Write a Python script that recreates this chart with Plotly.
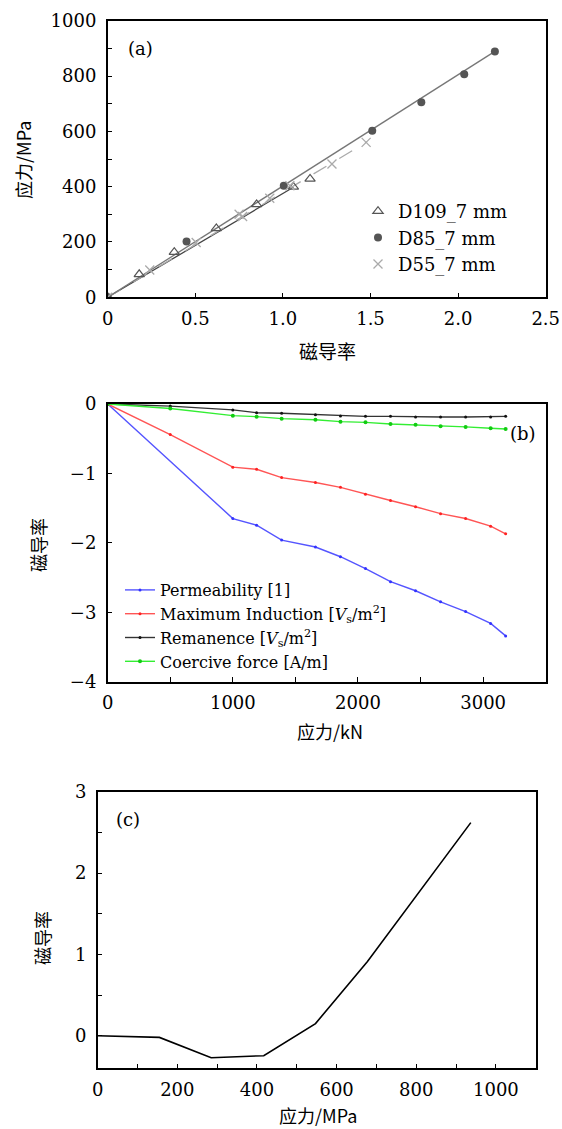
import plotly.graph_objects as go

# ---------------- Panel (a) data ----------------
d109_x = [0, 0.18, 0.38, 0.62, 0.85, 1.06, 1.155]
d109_y = [0, 83, 163, 249, 336, 399, 428]
d85_x = [0, 0.45, 1.005, 1.51, 1.79, 2.035, 2.21]
d85_y = [0, 202, 403, 602, 705, 806, 889]
d55_x = [0, 0.24, 0.505, 0.75, 0.77, 0.925, 1.04, 1.28, 1.475]
d55_y = [0, 99, 198, 300, 292, 358, 403, 482, 560]
# fitted lines
d109_fit_x = [0, 1.06]
d109_fit_y = [0, 398]
d85_fit_x = [0, 2.21]
d85_fit_y = [0, 889]
d55_fit_x = [0, 1.48]
d55_fit_y = [0, 562]
a_xtickvals = [0, 0.5, 1.0, 1.5, 2.0, 2.5]
a_xticktext = ["0", "0.5", "1.0", "1.5", "2.0", "2.5"]

# ---------------- Panel (b) data ----------------
perm_x = [0, 1000, 1190, 1390, 1660, 1860, 2060, 2260, 2460, 2660, 2860, 3060, 3180]
perm_y = [0, -1.65, -1.745, -1.96, -2.06, -2.2, -2.37, -2.56, -2.69, -2.85, -2.99, -3.16, -3.34]
load_x = [0, 500, 1000, 1190, 1390, 1660, 1860, 2060, 2260, 2460, 2660, 2860, 3060, 3180]
induct_y = [0, -0.44, -0.91, -0.94, -1.06, -1.13, -1.2, -1.3, -1.39, -1.48, -1.58, -1.65, -1.76, -1.87]
reman_y = [0, -0.03, -0.085, -0.125, -0.134, -0.154, -0.173, -0.178, -0.178, -0.187, -0.187, -0.187, -0.187, -0.178]
coerc_y = [0, -0.065, -0.168, -0.182, -0.211, -0.226, -0.254, -0.264, -0.288, -0.30, -0.32, -0.33, -0.35, -0.36]

# ---------------- Panel (c) data ----------------
stress_c = [0, 155, 285, 417, 547, 677, 937]
perm_c = [0, -0.02, -0.27, -0.245, 0.15, 0.91, 2.62]

W, H = 562, 1129
FONT = "DejaVu Serif, Noto Sans CJK SC, serif"
CJK = "Noto Sans CJK SC, DejaVu Serif, serif"

def px(x):
    return x / W

def py(y):
    return 1 - y / H

fig = go.Figure()

# panel (a)
fig.add_trace(go.Scatter(x=d109_fit_x, y=d109_fit_y, mode="lines", line=dict(color="#444444", width=1.3),
                         showlegend=False, xaxis="x", yaxis="y"))
fig.add_trace(go.Scatter(x=d55_fit_x, y=d55_fit_y, mode="lines", line=dict(color="#aaaaaa", width=1.3, dash="longdash"),
                         showlegend=False, xaxis="x", yaxis="y"))
fig.add_trace(go.Scatter(x=d85_fit_x, y=d85_fit_y, mode="lines", line=dict(color="#777777", width=1.3),
                         showlegend=False, xaxis="x", yaxis="y"))
fig.add_trace(go.Scatter(x=d109_x, y=d109_y, mode="markers", name="D109_7 mm",
                         marker=dict(symbol="triangle-up-open", size=9, color="#555555", line=dict(width=1.2)),
                         xaxis="x", yaxis="y", legend="legend"))
fig.add_trace(go.Scatter(x=d85_x, y=d85_y, mode="markers", name="D85_7 mm",
                         marker=dict(symbol="circle", size=8, color="#555555"),
                         xaxis="x", yaxis="y", legend="legend"))
fig.add_trace(go.Scatter(x=d55_x, y=d55_y, mode="markers", name="D55_7 mm",
                         marker=dict(symbol="x-thin-open", size=9, color="#aaaaaa", line=dict(width=1.3, color="#aaaaaa")),
                         xaxis="x", yaxis="y", legend="legend"))

# panel (b)
fig.add_trace(go.Scatter(x=perm_x, y=perm_y, mode="lines+markers", name="Permeability [1]",
                         line=dict(color="#5555ff", width=1.4), marker=dict(size=3, color="#3333ff"),
                         xaxis="x2", yaxis="y2", legend="legend2"))
fig.add_trace(go.Scatter(x=load_x, y=induct_y, mode="lines+markers",
                         name="Maximum Induction [<i>V</i><sub>s</sub>/m<sup>2</sup>]",
                         line=dict(color="#ff5555", width=1.4), marker=dict(size=3, color="#ff2222"),
                         xaxis="x2", yaxis="y2", legend="legend2"))
fig.add_trace(go.Scatter(x=load_x, y=reman_y, mode="lines+markers",
                         name="Remanence [<i>V</i><sub>s</sub>/m<sup>2</sup>]",
                         line=dict(color="#333333", width=1.4), marker=dict(size=3, color="#111111"),
                         xaxis="x2", yaxis="y2", legend="legend2"))
fig.add_trace(go.Scatter(x=load_x, y=coerc_y, mode="lines+markers",
                         name="Coercive force [A/m]",
                         line=dict(color="#33ee33", width=1.4), marker=dict(size=4, color="#11cc11"),
                         xaxis="x2", yaxis="y2", legend="legend2"))

# panel (c)
fig.add_trace(go.Scatter(x=stress_c, y=perm_c, mode="lines", line=dict(color="black", width=1.6),
                         showlegend=False, xaxis="x3", yaxis="y3"))

axis_common = dict(showline=True, linecolor="black", linewidth=1.5, mirror=True,
                   ticks="inside", tickcolor="black", ticklen=5, tickwidth=1,
                   showgrid=False, zeroline=False, automargin=False,
                   tickfont=dict(family=FONT, size=18, color="black"))

xa_dom = [px(107.7), px(545.7)]
xc_dom = [px(97.7), px(535.7)]

fig.update_layout(
    width=W, height=H,
    margin=dict(l=0, r=0, t=0, b=0, autoexpand=False),
    paper_bgcolor="white", plot_bgcolor="white",
    font=dict(family=FONT, color="black"),
    xaxis=dict(domain=xa_dom, anchor="y", range=[0, 2.5], tickvals=a_xtickvals, ticktext=a_xticktext,
               ticklabelstandoff=4, **axis_common),
    yaxis=dict(domain=[py(297.3), py(20.7)], anchor="x", range=[0, 1000], dtick=200,
               minor=dict(ticks="inside", dtick=100, ticklen=5, tickcolor="black"),
               ticklabelstandoff=6, **axis_common),
    xaxis2=dict(domain=xa_dom, anchor="y2", range=[0, 3500], dtick=1000,
                minor=dict(ticks="inside", dtick=500, ticklen=5, tickcolor="black"),
                ticklabelstandoff=4, **axis_common),
    yaxis2=dict(domain=[py(681.7), py(404)], anchor="x2", range=[-4, 0], dtick=1,
                ticklabelstandoff=6, **axis_common),
    xaxis3=dict(domain=xc_dom, anchor="y3", range=[0, 1100], dtick=200,
                minor=dict(ticks="inside", dtick=100, ticklen=5, tickcolor="black"),
                ticklabelstandoff=4, **axis_common),
    yaxis3=dict(domain=[py(1068.3), py(791.7)], anchor="x3", range=[-0.4, 3], dtick=1,
                minor=dict(ticks="inside", dtick=0.5, ticklen=5, tickcolor="black"),
                ticklabelstandoff=6, **axis_common),
    legend=dict(x=px(358), y=py(193), xanchor="left", yanchor="top", bgcolor="rgba(0,0,0,0)",
                font=dict(family=FONT, size=18, color="black")),
    legend2=dict(x=px(120), y=py(573), xanchor="left", yanchor="top", bgcolor="rgba(0,0,0,0)",
                 font=dict(family=FONT, size=16, color="black"), itemwidth=30),
)

annots = [
    dict(text="(a)", x=px(140), y=py(49), font=dict(family=FONT, size=18)),
    dict(text="(b)", x=px(523), y=py(433), font=dict(family=FONT, size=18)),
    dict(text="(c)", x=px(128), y=py(819), font=dict(family=FONT, size=18)),
    dict(text="应力/MPa", x=px(23), y=py(160), textangle=-90, font=dict(family=CJK, size=18)),
    dict(text="磁导率", x=px(327), y=py(350), font=dict(family=CJK, size=19)),
    dict(text="磁导率", x=px(38), y=py(545), textangle=-90, font=dict(family=CJK, size=18)),
    dict(text="应力/kN", x=px(330), y=py(731), font=dict(family=CJK, size=18)),
    dict(text="磁导率", x=px(42), y=py(938), textangle=-90, font=dict(family=CJK, size=18)),
    dict(text="应力/MPa", x=px(318), y=py(1115), font=dict(family=CJK, size=18)),
]
for a in annots:
    a.update(xref="paper", yref="paper", showarrow=False, xanchor="center", yanchor="middle")
    a["font"]["color"] = "black"
fig.update_layout(annotations=annots)

fig.write_html("out.html",
               config={"displayModeBar": False},
               post_script="document.documentElement.style.margin='0';document.body.style.margin='0';"
                           "document.body.style.padding='0';document.body.style.overflow='hidden';")
